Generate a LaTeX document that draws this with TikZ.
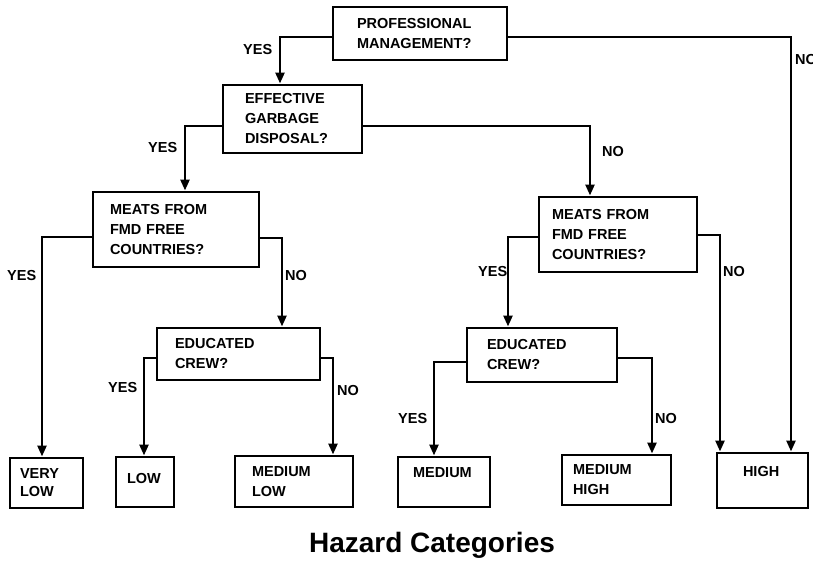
\documentclass[tikz,border=0pt]{standalone}
\usepackage{fontspec}
\setmainfont{Liberation Sans}
\usetikzlibrary{arrows.meta}
\begin{document}
\begin{tikzpicture}[x=1pt,y=-1pt,
  qbox/.style={draw, line width=2.8pt, anchor=north west, outer sep=0pt, inner ysep=0pt, align=left,
    font=\fontsize{14.5}{20}\selectfont\bfseries},
  conn/.style={line width=2.5pt, -{Triangle[length=11pt,width=9pt]}, shorten >=1.5pt},
  lbl/.style={font=\fontsize{14.5}{17}\selectfont\bfseries, inner sep=0pt, anchor=west},
]
\useasboundingbox (0,0) rectangle (813,563);
% question boxes
\node[qbox, minimum height=53pt, inner xsep=24pt, text width=126pt] (pm) at (333,7) {PROFESSIONAL\\MANAGEMENT?};
\node[qbox, minimum height=68pt, inner xsep=22pt, text width=95pt] (egd) at (223,85) {EFFECTIVE\\GARBAGE\\DISPOSAL?};
\node[qbox, minimum height=75pt, inner xsep=17pt, text width=132pt] (mfcl) at (93,192) {MEATS FROM\\FMD FREE\\COUNTRIES?};
\node[qbox, minimum height=75pt, inner xsep=13pt, text width=132pt] (mfcr) at (539,197) {MEATS FROM\\FMD FREE\\COUNTRIES?};
\node[qbox, minimum height=52pt, inner xsep=18pt, text width=127pt] (ecl) at (157,328) {EDUCATED\\CREW?};
\node[qbox, minimum height=54pt, inner xsep=20pt, text width=110pt] (ecr) at (467,328) {EDUCATED\\CREW?};
% leaf boxes
\node[qbox, minimum height=50pt, inner xsep=10pt, text width=53pt, font=\fontsize{14.5}{18}\selectfont\bfseries] (vlow) at (10,458) {VERY\\LOW};
\node[qbox, minimum height=50pt, inner xsep=11pt, text width=36pt] (low) at (116,457) {\raisebox{4pt}[\height][\depth]{LOW}};
\node[qbox, minimum height=51pt, inner xsep=17pt, text width=84pt] (mlow) at (235,456) {MEDIUM\\LOW};
\node[qbox, minimum height=50pt, inner xsep=15pt, text width=62pt] (med) at (398,457) {\raisebox{9pt}[\height][\depth]{MEDIUM}};
\node[qbox, minimum height=50pt, inner xsep=11pt, text width=87pt] (mhigh) at (562,455) {MEDIUM\\HIGH};
\node[qbox, minimum height=55pt, inner xsep=26pt, text width=39pt] (high) at (717,453) {\raisebox{9pt}[\height][\depth]{HIGH}};
% connectors
\draw[conn] (pm.west |- 0,37) -| (egd.north -| 280,0);
\draw[conn] (pm.east |- 0,37) -| (high.north -| 791,0);
\draw[conn] (egd.west |- 0,126) -| (mfcl.north -| 185,0);
\draw[conn] (egd.east |- 0,126) -| (mfcr.north -| 590,0);
\draw[conn] (mfcl.west |- 0,237) -| (vlow.north -| 42,0);
\draw[conn] (mfcl.east |- 0,238) -| (ecl.north -| 282,0);
\draw[conn] (ecl.west |- 0,358) -| (low.north -| 144,0);
\draw[conn] (ecl.east |- 0,358) -| (mlow.north -| 333,0);
\draw[conn] (mfcr.west |- 0,237) -| (ecr.north -| 508,0);
\draw[conn] (mfcr.east |- 0,235) -| (high.north -| 720,0);
\draw[conn] (ecr.west |- 0,362) -| (med.north -| 434,0);
\draw[conn] (ecr.east |- 0,358) -| (mhigh.north -| 652,0);
% labels
\node[lbl] (y1) at (243,50) {YES};
\node[lbl] (n1) at (795,60) {NO};
\node[lbl] (y2) at (148,148) {YES};
\node[lbl] (n2) at (602,152) {NO};
\node[lbl] (y3) at (7,276) {YES};
\node[lbl] (n3) at (285,276) {NO};
\node[lbl] (y4) at (108,387) {YES};
\node[lbl] (n4) at (337,390) {NO};
\node[lbl] (y5) at (478,272) {YES};
\node[lbl] (n5) at (723,272) {NO};
\node[lbl] (y6) at (398,418) {YES};
\node[lbl] (n6) at (655,418) {NO};
% title
\node[font=\fontsize{28}{30}\selectfont\bfseries, anchor=base, inner sep=0pt] (title) at (432,552) {Hazard Categories};
\end{tikzpicture}
\end{document}
